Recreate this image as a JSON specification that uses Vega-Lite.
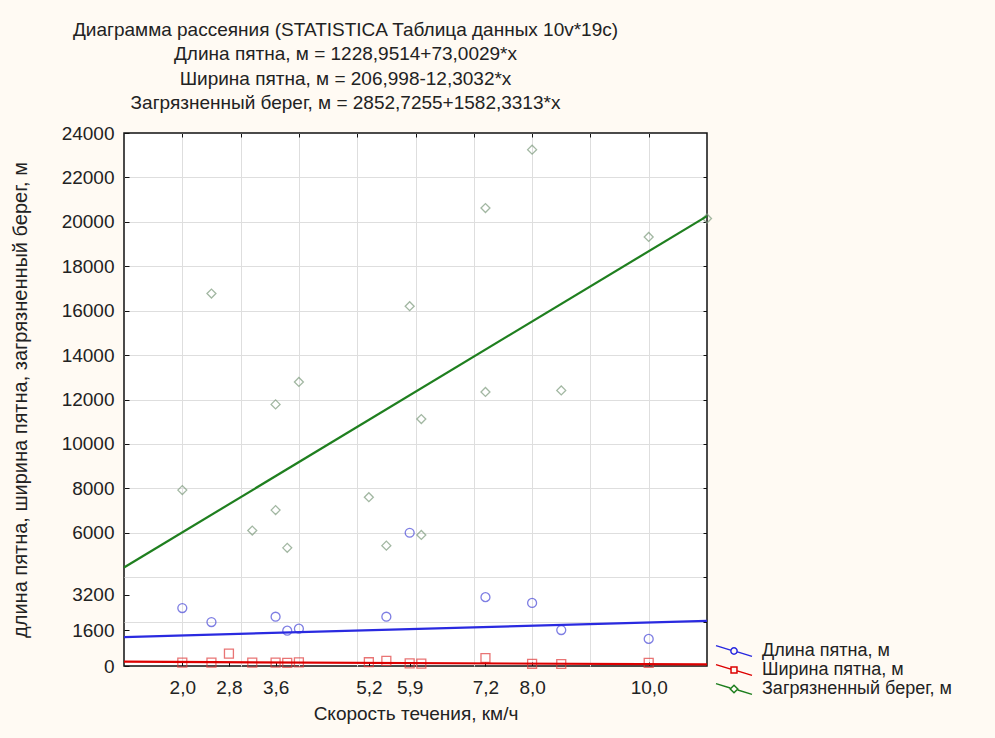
{
  "$schema": "https://vega.github.io/schema/vega-lite/v6.json",
  "width": 583,
  "height": 533,
  "autosize": {"type": "none"},
  "padding": {"left": 124, "top": 133, "right": 288, "bottom": 72},
  "background": "#fffaf3",
  "config": {
    "font": "Liberation Sans",
    "view": {"fill": "white", "stroke": "#111111", "strokeWidth": 1.5}
  },
  "title": {
    "text": [
      "Диаграмма рассеяния (STATISTICA Таблица данных 10v*19c)",
      "Длина пятна, м = 1228,9514+73,0029*x",
      "Ширина пятна, м = 206,998-12,3032*x",
      "Загрязненный берег, м = 2852,7255+1582,3313*x"
    ],
    "fontSize": 19,
    "fontWeight": "normal",
    "lineHeight": 24.5,
    "color": "#222222",
    "anchor": "middle",
    "dx": -70,
    "offset": 11
  },
  "datasets": {
    "pts": [
      {"x": 2.0, "series": "Длина пятна, м", "value": 2610},
      {"x": 2.5, "series": "Длина пятна, м", "value": 1980},
      {"x": 3.6, "series": "Длина пятна, м", "value": 2220},
      {"x": 3.8, "series": "Длина пятна, м", "value": 1590},
      {"x": 4.0, "series": "Длина пятна, м", "value": 1680},
      {"x": 5.5, "series": "Длина пятна, м", "value": 2220},
      {"x": 5.9, "series": "Длина пятна, м", "value": 6000},
      {"x": 7.2, "series": "Длина пятна, м", "value": 3100},
      {"x": 8.0, "series": "Длина пятна, м", "value": 2840},
      {"x": 8.5, "series": "Длина пятна, м", "value": 1620},
      {"x": 10.0, "series": "Длина пятна, м", "value": 1220},
      {"x": 2.0, "series": "Ширина пятна, м", "value": 150},
      {"x": 2.5, "series": "Ширина пятна, м", "value": 150},
      {"x": 2.8, "series": "Ширина пятна, м", "value": 560},
      {"x": 3.2, "series": "Ширина пятна, м", "value": 150},
      {"x": 3.6, "series": "Ширина пятна, м", "value": 150},
      {"x": 3.8, "series": "Ширина пятна, м", "value": 140},
      {"x": 4.0, "series": "Ширина пятна, м", "value": 160},
      {"x": 5.2, "series": "Ширина пятна, м", "value": 170},
      {"x": 5.5, "series": "Ширина пятна, м", "value": 230},
      {"x": 5.9, "series": "Ширина пятна, м", "value": 120},
      {"x": 6.1, "series": "Ширина пятна, м", "value": 110},
      {"x": 7.2, "series": "Ширина пятна, м", "value": 360},
      {"x": 8.0, "series": "Ширина пятна, м", "value": 100},
      {"x": 8.5, "series": "Ширина пятна, м", "value": 90},
      {"x": 10.0, "series": "Ширина пятна, м", "value": 140},
      {"x": 2.0, "series": "Загрязненный берег, м", "value": 7920},
      {"x": 2.5, "series": "Загрязненный берег, м", "value": 16770},
      {"x": 3.2, "series": "Загрязненный берег, м", "value": 6100},
      {"x": 3.6, "series": "Загрязненный берег, м", "value": 11780},
      {"x": 3.6, "series": "Загрязненный берег, м", "value": 7020},
      {"x": 3.8, "series": "Загрязненный берег, м", "value": 5320},
      {"x": 4.0, "series": "Загрязненный берег, м", "value": 12790},
      {"x": 5.2, "series": "Загрязненный берег, м", "value": 7600},
      {"x": 5.5, "series": "Загрязненный берег, м", "value": 5420},
      {"x": 5.9, "series": "Загрязненный берег, м", "value": 16200},
      {"x": 6.1, "series": "Загрязненный берег, м", "value": 11120},
      {"x": 6.1, "series": "Загрязненный берег, м", "value": 5900},
      {"x": 7.2, "series": "Загрязненный берег, м", "value": 20620},
      {"x": 7.2, "series": "Загрязненный берег, м", "value": 12340},
      {"x": 8.0, "series": "Загрязненный берег, м", "value": 23250},
      {"x": 8.5, "series": "Загрязненный берег, м", "value": 12410},
      {"x": 10.0, "series": "Загрязненный берег, м", "value": 19320},
      {"x": 11.0, "series": "Загрязненный берег, м", "value": 20150}
    ],
    "fit": [
      {"x": 1, "name": "Длина пятна, м", "value": 1301.95},
      {"x": 11, "name": "Длина пятна, м", "value": 2031.98},
      {"x": 1, "name": "Ширина пятна, м", "value": 194.69},
      {"x": 11, "name": "Ширина пятна, м", "value": 71.66},
      {"x": 1, "name": "Загрязненный берег, м", "value": 4435.06},
      {"x": 11, "name": "Загрязненный берег, м", "value": 20258.37}
    ]
  },
  "layer": [
    {
      "data": {"name": "pts"},
      "mark": {"type": "point", "filled": false, "strokeWidth": 1.3},
      "encoding": {
        "x": {
          "field": "x",
          "type": "quantitative",
          "scale": {"domain": [1, 11], "nice": false, "zero": false},
          "axis": {
            "orient": "bottom",
            "values": [2, 2.8, 3.6, 5.2, 5.9, 7.2, 8, 10],
            "labelExpr": "replace(format(datum.value, '.1f'), '.', ',')",
            "grid": false,
            "domain": false,
            "ticks": true,
            "tickSize": -4,
            "tickColor": "#111111",
            "labelFontSize": 19,
            "labelColor": "#222222",
            "labelPadding": 16,
            "title": "Скорость течения, км/ч",
            "titleFontSize": 19,
            "titleFontWeight": "normal",
            "titleColor": "#222222",
            "titlePadding": 7
          }
        },
        "y": {
          "field": "value",
          "type": "quantitative",
          "scale": {"domain": [0, 24000], "nice": false, "zero": true},
          "axis": {
            "orient": "left",
            "values": [0, 1600, 3200, 6000, 8000, 10000, 12000, 14000, 16000, 18000, 20000, 22000, 24000],
            "format": "d",
            "grid": false,
            "domain": false,
            "ticks": true,
            "tickSize": -5,
            "tickColor": "#111111",
            "labelFontSize": 19,
            "labelColor": "#222222",
            "labelPadding": 15,
            "title": "длина пятна, ширина пятна, загрязненный берег, м",
            "titleFontSize": 20,
            "titleFontWeight": "normal",
            "titleColor": "#222222",
            "titlePadding": 31
          }
        },
        "stroke": {
          "field": "series",
          "type": "nominal",
          "scale": {"range": ["#4848d8", "#7c9a7c", "#e03a3a"]},
          "legend": null
        },
        "shape": {
          "field": "series",
          "type": "nominal",
          "scale": {"range": ["circle", "diamond", "square"]},
          "legend": null
        },
        "size": {
          "field": "series",
          "type": "nominal",
          "scale": {"range": [80, 80, 64]},
          "legend": null
        }
      }
    },
    {
      "data": {"name": "fit"},
      "mark": {"type": "line", "strokeWidth": 2.2},
      "encoding": {
        "x": {
          "field": "x",
          "type": "quantitative",
          "axis": {
            "orient": "top",
            "values": [2, 3, 4, 5, 6, 7, 8, 9, 10],
            "labels": false,
            "domain": false,
            "ticks": true,
            "tickSize": -4,
            "tickColor": "#111111",
            "grid": true,
            "gridColor": "#dedede",
            "gridWidth": 1,
            "title": null
          }
        },
        "y": {
          "field": "value",
          "type": "quantitative",
          "axis": {
            "orient": "right",
            "values": [2000, 4000, 6000, 8000, 10000, 12000, 14000, 16000, 18000, 20000, 22000],
            "labels": false,
            "domain": false,
            "ticks": true,
            "tickSize": -4,
            "tickColor": "#111111",
            "grid": true,
            "gridColor": "#dedede",
            "gridWidth": 1,
            "title": null
          }
        },
        "color": {
          "field": "name",
          "type": "nominal",
          "scale": {
            "domain": ["Длина пятна, м", "Ширина пятна, м", "Загрязненный берег, м"],
            "range": ["#2a2ae0", "#dd0000", "#1f7f1f"]
          },
          "legend": {
            "title": null,
            "orient": "none",
            "legendX": 600,
            "legendY": 508,
            "symbolSize": 324,
            "symbolStrokeWidth": 1.5,
            "symbolFillColor": "transparent",
            "labelFontSize": 18,
            "labelColor": "#222222",
            "labelOffset": 18,
            "labelLimit": 300,
            "rowPadding": 0,
            "encode": {
              "symbols": {
                "update": {
                  "shape": {
                    "signal": "datum.value === 'Длина пятна, м' ? 'M-2,-0.6L-0.38,-0.1M0.38,0.1L2,0.6M-0.35,0A0.35,0.35,0,1,0,0.35,0A0.35,0.35,0,1,0,-0.35,0Z' : datum.value === 'Ширина пятна, м' ? 'M-2,-0.6L-0.36,-0.1M0.36,0.1L2,0.6M-0.33,-0.33H0.33V0.33H-0.33Z' : 'M-2,-0.6L-0.42,-0.12M0.42,0.12L2,0.6M0,-0.42L0.42,0L0,0.42L-0.42,0Z'"
                  },
                  "fill": {"value": "transparent"}
                }
              }
            }
          }
        }
      }
    }
  ],
  "resolve": {"axis": {"x": "independent", "y": "independent"}}
}
